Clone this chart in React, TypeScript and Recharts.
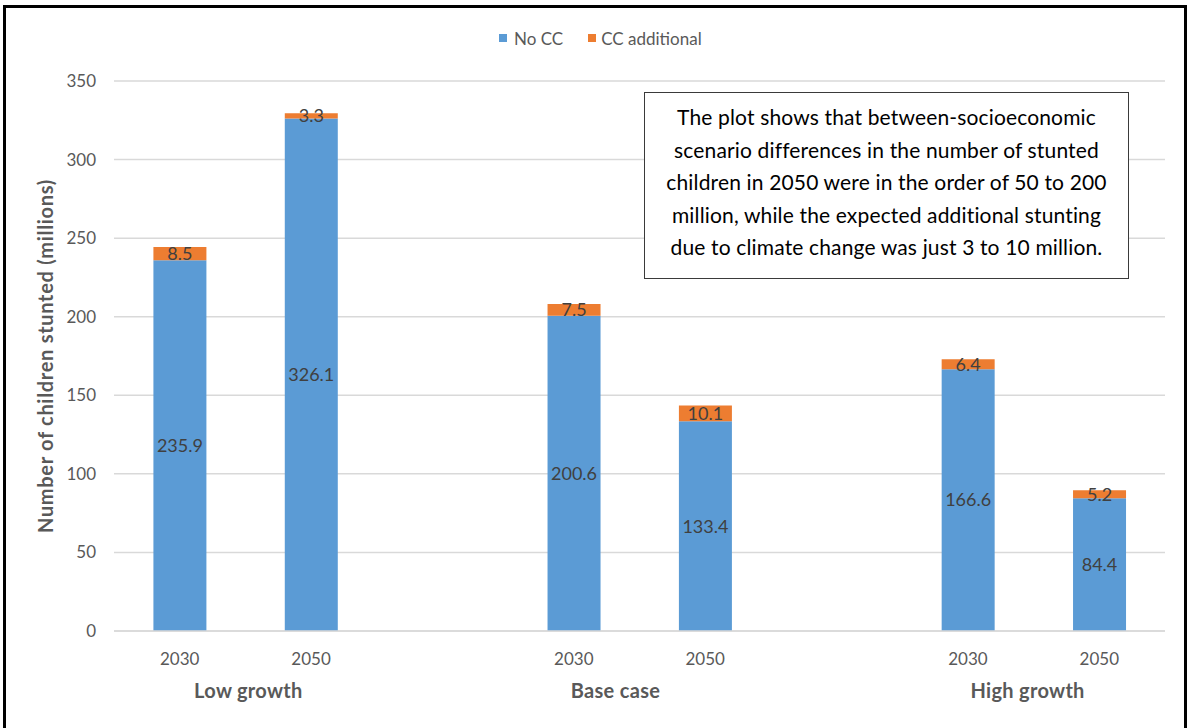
import React from 'react';
import { BarChart, Bar, XAxis, YAxis, CartesianGrid, LabelList, Label } from 'recharts';

// ---- data ----
const categories = ['2030', '2050', '', '2030', '2050', '', '2030', '2050'];
const scenarioGroups = ['Low growth', 'Low growth', '', 'Base case', 'Base case', '', 'High growth', 'High growth'];
const noCC: (number | null)[] = [235.9, 326.1, null, 200.6, 133.4, null, 166.6, 84.4];
const ccAdditional: (number | null)[] = [8.5, 3.3, null, 7.5, 10.1, null, 6.4, 5.2];
const seriesNames = ['No CC', 'CC additional'];
const yTicks = [0, 50, 100, 150, 200, 250, 300, 350];
const yTitle = 'Number of children stunted (millions)';
const annotationLines = [
  'The plot shows that between-socioeconomic',
  'scenario differences in the number of stunted',
  'children in 2050 were in the order of 50 to 200',
  'million, while the expected additional stunting',
  'due to climate change was just 3 to 10 million.',
];

// ---- layout / style ----
const W = 1192;
const H = 728;
const PLOT_LEFT = 114;
const PLOT_RIGHT = 1165;
const PLOT_TOP = 81;
const PLOT_BOTTOM = 631;
const Y_AXIS_W = 60;
const X_AXIS_H = 60;
const SLOT = (PLOT_RIGHT - PLOT_LEFT) / categories.length;
const groupNudge: Record<string, number> = { 'Low growth': 3, 'Base case': -24, 'High growth': -6 };
const BLUE = '#5B9BD5';
const ORANGE = '#ED7D31';
const AXIS_TEXT = '#595959';
const LABEL_TEXT = '#404040';
const GRID = '#D9D9D9';
const FONT = 'Lato, "Open Sans", sans-serif';

const data = categories.map((c, i) => ({
  key: i,
  year: c,
  group: scenarioGroups[i],
  noCC: noCC[i],
  cc: ccAdditional[i],
}));

const fmt = (v: any) => (v == null || v === '' ? '' : Number(v).toFixed(1));

const XTick = (props: any) => {
  const { x, y, payload } = props;
  const i = Number(payload.value);
  const row = data[i];
  if (!row || !row.year) return null;
  const isGroupStart = row.group && (i === 0 || data[i - 1].group !== row.group);
  return (
    <g>
      <text x={x} y={y + 27} textAnchor="middle" dominantBaseline="central" fill={AXIS_TEXT} fontSize={17} fontFamily={FONT}>
        {row.year}
      </text>
      {isGroupStart ? (
        <text
          x={x + SLOT / 2 + (groupNudge[row.group] || 0)}
          y={y + 59}
          textAnchor="middle"
          dominantBaseline="central"
          fill={AXIS_TEXT}
          fontSize={20}
          fontWeight="bold"
          letterSpacing={0.3}
          fontFamily={FONT}
        >
          {row.group}
        </text>
      ) : null}
    </g>
  );
};

const YTitle = (props: any) => {
  const vb = props.viewBox || { x: PLOT_LEFT - Y_AXIS_W, y: PLOT_TOP, width: Y_AXIS_W, height: PLOT_BOTTOM - PLOT_TOP };
  const cx = vb.x + vb.width - 69;
  const cy = vb.y + vb.height / 2;
  return (
    <text
      x={cx}
      y={cy}
      transform={`rotate(-90 ${cx} ${cy})`}
      textAnchor="middle"
      dominantBaseline="central"
      fill={AXIS_TEXT}
      fontSize={20}
      fontWeight="bold"
      letterSpacing={0.7}
      fontFamily={FONT}
    >
      {yTitle}
    </text>
  );
};

export default function App() {
  return (
    <div
      style={{
        position: 'fixed',
        left: 0,
        top: 0,
        width: W,
        height: H,
        background: '#fff',
        overflow: 'hidden',
        fontFamily: FONT,
      }}
    >
      <div style={{ position: 'absolute', left: 0, top: 0 }}>
        <BarChart
          width={W}
          height={H}
          data={data}
          margin={{ top: PLOT_TOP, right: W - PLOT_RIGHT, left: PLOT_LEFT - Y_AXIS_W, bottom: H - PLOT_BOTTOM - X_AXIS_H }}
          barCategoryGap="30%"
          style={{ fontFamily: FONT }}
        >
          <CartesianGrid vertical={false} stroke={GRID} strokeWidth={1.5} />
          <XAxis
            dataKey="key"
            type="category"
            interval={0}
            height={X_AXIS_H}
            axisLine={{ stroke: GRID, strokeWidth: 1.5 }}
            tickLine={false}
            tickSize={0}
            tickMargin={0}
            tick={<XTick />}
          />
          <YAxis
            width={Y_AXIS_W}
            domain={[0, 350]}
            ticks={yTicks}
            interval={0}
            axisLine={false}
            tickLine={false}
            tickSize={0}
            tickMargin={18}
            tick={{ fill: AXIS_TEXT, fontSize: 17, fontFamily: FONT }}
          >
            <Label content={<YTitle />} />
          </YAxis>
          <Bar dataKey="noCC" name={seriesNames[0]} stackId="a" fill={BLUE} isAnimationActive={false}>
            <LabelList dataKey="noCC" position="center" fill={LABEL_TEXT} fontSize={18} fontFamily={FONT} formatter={fmt} />
          </Bar>
          <Bar dataKey="cc" name={seriesNames[1]} stackId="a" fill={ORANGE} isAnimationActive={false}>
            <LabelList dataKey="cc" position="center" fill={LABEL_TEXT} fontSize={18} fontFamily={FONT} formatter={fmt} />
          </Bar>
        </BarChart>
      </div>

      {/* legend */}
      <div
        style={{
          position: 'absolute',
          left: 499,
          top: 27,
          height: 22,
          display: 'flex',
          alignItems: 'center',
          fontSize: 17,
          color: AXIS_TEXT,
          whiteSpace: 'nowrap',
        }}
      >
        <span style={{ width: 8, height: 8, background: BLUE, display: 'inline-block', marginRight: 7 }} />
        <span style={{ marginRight: 25 }}>{seriesNames[0]}</span>
        <span style={{ width: 8, height: 8, background: ORANGE, display: 'inline-block', marginRight: 5 }} />
        <span>{seriesNames[1]}</span>
      </div>

      {/* annotation box */}
      <div
        style={{
          position: 'absolute',
          left: 644,
          top: 92,
          width: 485,
          height: 187,
          boxSizing: 'border-box',
          border: '1px solid #3a3a3a',
          background: '#fff',
          paddingTop: 8,
          textAlign: 'center',
          fontSize: 21,
          letterSpacing: 0.15,
          lineHeight: '32.5px',
          color: '#000',
          whiteSpace: 'nowrap',
        }}
      >
        {annotationLines.map((l, i) => (
          <div key={i}>{l}</div>
        ))}
      </div>

      {/* outer frame */}
      <div
        style={{
          position: 'absolute',
          left: 3,
          top: 5,
          width: 1184,
          height: 760,
          boxSizing: 'border-box',
          border: '3px solid #000',
          pointerEvents: 'none',
        }}
      />
    </div>
  );
}
